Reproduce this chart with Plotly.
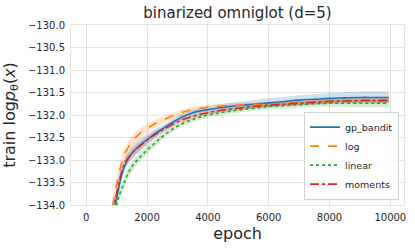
import plotly.graph_objects as go

epochs = [0, 250, 500, 750, 1000, 1250, 1500, 1750, 2000, 2250, 2500, 3000, 3500,
          4000, 4500, 5000, 5500, 6000, 6500, 7000, 7500, 8000, 8500, 9000, 9500, 9950]

gp_bandit = [-152, -143, -137.5, -134.9, -133.85, -133.15, -132.85, -132.68, -132.55, -132.42,
             -132.31, -132.10, -131.95, -131.88, -131.83, -131.79, -131.76, -131.73, -131.70,
             -131.67, -131.65, -131.63, -131.62, -131.61, -131.61, -131.61]
gp_bandit_sd = [0.6, 0.4, 0.3, 0.2, 0.15, 0.13, 0.13, 0.14, 0.13, 0.1, 0.08, 0.07, 0.07,
                0.07, 0.08, 0.08, 0.09, 0.1, 0.1, 0.11, 0.11, 0.12, 0.12, 0.13, 0.13, 0.13]

log = [-150, -142, -137.0, -134.6, -133.55, -132.9, -132.6, -132.42, -132.3, -132.2,
       -132.12, -131.98, -131.88, -131.83, -131.80, -131.78, -131.77, -131.76, -131.74,
       -131.72, -131.70, -131.68, -131.68, -131.67, -131.67, -131.67]
log_sd = [0.6, 0.4, 0.3, 0.2, 0.16, 0.15, 0.13, 0.11, 0.1, 0.09, 0.08, 0.07, 0.06,
          0.06, 0.05, 0.05, 0.05, 0.05, 0.05, 0.05, 0.05, 0.05, 0.05, 0.05, 0.05, 0.05]

linear = [-156, -146, -139, -135.5, -134.0, -133.5, -133.15, -132.95, -132.78, -132.63,
          -132.48, -132.25, -132.1, -132.0, -131.94, -131.89, -131.85, -131.81, -131.79,
          -131.77, -131.75, -131.74, -131.74, -131.74, -131.74, -131.74]
linear_sd = [0.6, 0.4, 0.3, 0.15, 0.13, 0.12, 0.11, 0.1, 0.09, 0.08, 0.07, 0.06, 0.06,
             0.06, 0.06, 0.06, 0.06, 0.07, 0.07, 0.07, 0.07, 0.08, 0.08, 0.08, 0.08, 0.08]

moments = [-151, -142.5, -137.3, -134.8, -133.75, -133.1, -132.85, -132.7, -132.56, -132.44,
           -132.34, -132.15, -132.03, -131.95, -131.89, -131.85, -131.81, -131.78, -131.76,
           -131.74, -131.72, -131.70, -131.69, -131.68, -131.68, -131.68]
moments_sd = [0.6, 0.4, 0.3, 0.15, 0.13, 0.12, 0.11, 0.1, 0.09, 0.08, 0.07, 0.06, 0.06,
              0.05, 0.05, 0.05, 0.05, 0.05, 0.05, 0.05, 0.05, 0.05, 0.05, 0.05, 0.05, 0.05]

series = [
    ("gp_bandit", gp_bandit, gp_bandit_sd, "#1f77b4", "rgba(31,119,180,0.22)", "solid"),
    ("log", log, log_sd, "#ff7f0e", "rgba(255,127,14,0.22)", "dash"),
    ("linear", linear, linear_sd, "#2ca02c", "rgba(44,160,44,0.2)", "dot"),
    ("moments", moments, moments_sd, "#d62728", "rgba(214,39,40,0.2)", "dashdot"),
]

fig = go.Figure()
for name, ys, sd, col, fcol, dash in series:
    upper = [y + s for y, s in zip(ys, sd)]
    lower = [y - s for y, s in zip(ys, sd)]
    fig.add_trace(go.Scatter(x=epochs, y=upper, mode="lines", line=dict(width=0),
                             showlegend=False, hoverinfo="skip", line_shape="spline"))
    fig.add_trace(go.Scatter(x=epochs, y=lower, mode="lines", line=dict(width=0),
                             fill="tonexty", fillcolor=fcol, showlegend=False,
                             hoverinfo="skip", line_shape="spline"))
for name, ys, sd, col, fcol, dash in series:
    fig.add_trace(go.Scatter(x=epochs, y=ys, mode="lines", name=name,
                             line=dict(color=col, width=1.6, dash=dash), line_shape="spline"))

axis_common = dict(showgrid=True, gridcolor="#e3e3e3", gridwidth=1, zeroline=False,
                   showline=True, linecolor="#e3e3e3", linewidth=1, mirror=True,
                   ticks="", automargin=False,
                   tickfont=dict(family="DejaVu Sans", size=10, color="#262626"))

fig.update_layout(
    width=415, height=248,
    margin=dict(l=71, r=11, t=25, b=43),
    paper_bgcolor="white", plot_bgcolor="white",
    font=dict(family="DejaVu Sans", color="#262626"),
    title=dict(text="binarized omniglot (d=5)", x=0.5, xref="paper", xanchor="center",
               y=0.95, yref="container", yanchor="middle",
               font=dict(size=15, color="#262626")),
    xaxis=dict(range=[-500, 10450], tickvals=[0, 2000, 4000, 6000, 8000, 10000],
               tickformat="d", ticklabelstandoff=3,
               title=dict(text="epoch", font=dict(size=16), standoff=5),
               **axis_common),
    yaxis=dict(range=[-134, -130], dtick=0.5, tickformat=".1f", ticklabelstandoff=3,
               title=dict(text="train log<i>p</i><sub>θ</sub>(<i>x</i>)", font=dict(size=16), standoff=8),
               **axis_common),
    legend=dict(x=0.985, y=0.03, xanchor="right", yanchor="bottom", traceorder="normal",
                bgcolor="rgba(255,255,255,0.85)", bordercolor="#d0d0d0", borderwidth=1,
                font=dict(size=9.5, color="#262626"), tracegroupgap=0, itemwidth=30),
)

fig.write_html("out.html", config={"displayModeBar": False},
               post_script="document.body.style.margin='0';")
